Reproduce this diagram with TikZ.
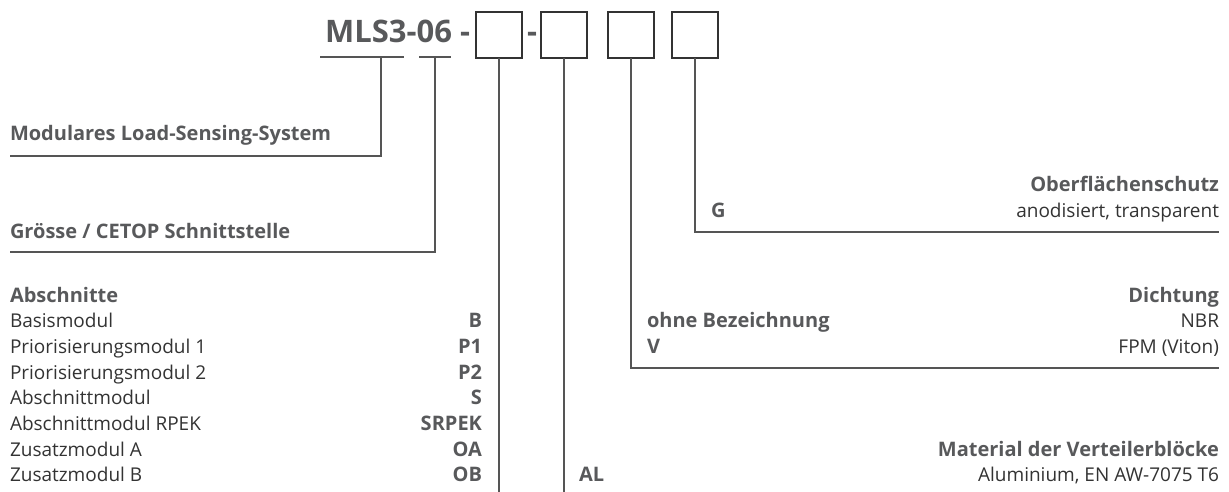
\documentclass[tikz,border=0pt]{standalone}
\usepackage{fontspec}
\setmainfont{Open Sans}
\usepackage{tikz}
\usetikzlibrary{positioning, calc}
\definecolor{boldgray}{HTML}{58595B}
\definecolor{txtgray}{HTML}{333333}
\definecolor{linegray}{HTML}{555555}

\begin{document}
\begin{tikzpicture}[
    x=1pt, y=-1pt,
    every node/.style={inner sep=0pt, outer sep=0pt},
    txt/.style={font=\fontsize{19}{22}\selectfont, text=txtgray},
    head/.style={font=\fontsize{20}{24}\selectfont\bfseries, text=boldgray},
    title/.style={font=\fontsize{31}{36}\selectfont\bfseries, text=boldgray},
    sqbox/.style={rectangle, draw=txtgray, line width=1.4pt, minimum size=46pt},
    conn/.style={draw=linegray, line width=1.3pt}
]
    \useasboundingbox (0,0) rectangle (1229,492);

    \node[title, anchor=base east] (code) at (452,43) {MLS3-06};
    \node[title, anchor=base] (dashA) at (465,43) {-};
    \node[sqbox] (box1) at (499,35) {};
    \node[title, anchor=base] (dashB) at (532,43) {-};
    \node[sqbox] (box2) at (564,35) {};
    \node[sqbox] (box3) at (631,35) {};
    \node[sqbox] (box4) at (695,35) {};

    \coordinate (ulAleft) at (320,57);
    \coordinate (ulAright) at (404,57);
    \coordinate (ulAmid) at (381,57);
    \coordinate (ulBleft) at (419,57);
    \coordinate (ulBright) at (451,57);
    \coordinate (ulBmid) at (435,57);
    \coordinate (modEnd) at (10,156);
    \coordinate (sizeEnd) at (10,252);
    \coordinate (surfEnd) at (1219,232);
    \coordinate (sealEnd) at (1219,368);
    \coordinate (foot) at (0,492);

    \node[head, anchor=base west] (modul) at (10,141) {Modulares Load-Sensing-System};
    \node[head, anchor=base west] (size) at (10,238) {Grösse / CETOP Schnittstelle};

    \node[head, anchor=base west] (sect) at (10,302) {Abschnitte};
    \node[txt, anchor=base west] (basis) at (10,327.7) {Basismodul};
    \node[txt, anchor=base west] (prioA) at (10,353.4) {Priorisierungsmodul 1};
    \node[txt, anchor=base west] (prioB) at (10,379.1) {Priorisierungsmodul 2};
    \node[txt, anchor=base west] (abs) at (10,404.8) {Abschnittmodul};
    \node[txt, anchor=base west] (absR) at (10,430.5) {Abschnittmodul RPEK};
    \node[txt, anchor=base west] (addA) at (10,456.2) {Zusatzmodul A};
    \node[txt, anchor=base west] (addB) at (10,481.9) {Zusatzmodul B};

    \node[head, anchor=base east] (cB) at (482,327.7) {B};
    \node[head, anchor=base east] (cPA) at (482,353.4) {P1};
    \node[head, anchor=base east] (cPB) at (482,379.1) {P2};
    \node[head, anchor=base east] (cS) at (482,404.8) {S};
    \node[head, anchor=base east] (cSR) at (482,430.5) {SRPEK};
    \node[head, anchor=base east] (cOA) at (482,456.2) {OA};
    \node[head, anchor=base east] (cOB) at (482,481.9) {OB};

    \node[head, anchor=base west] (cAL) at (579,481.9) {AL};
    \node[head, anchor=base west] (cNone) at (647,327.7) {ohne Bezeichnung};
    \node[head, anchor=base west] (cV) at (647,353.4) {V};
    \node[head, anchor=base west] (cG) at (711,217) {G};

    \node[head, anchor=base east] (surf) at (1219,191.3) {Oberflächenschutz};
    \node[txt, anchor=base east] (anod) at (1219,217) {anodisiert, transparent};
    \node[head, anchor=base east] (seal) at (1219,302) {Dichtung};
    \node[txt, anchor=base east] (nbr) at (1219,327.7) {NBR};
    \node[txt, anchor=base east] (fpm) at (1219,353.4) {FPM (Viton)};
    \node[head, anchor=base east] (mat) at (1219,456.2) {Material der Verteilerblöcke};
    \node[txt, anchor=base east] (alu) at (1219,481.9) {Aluminium, EN AW-7075 T6};

    \draw[conn] (ulAleft) -- (ulAright);
    \draw[conn] (ulBleft) -- (ulBright);
    \draw[conn] (ulAmid) |- (modEnd);
    \draw[conn] (ulBmid) |- (sizeEnd);
    \draw[conn] (box1.south) -- (box1.south |- foot);
    \draw[conn] (box2.south) -- (box2.south |- foot);
    \draw[conn] (box3.south) |- (sealEnd);
    \draw[conn] (box4.south) |- (surfEnd);
\end{tikzpicture}
\end{document}
